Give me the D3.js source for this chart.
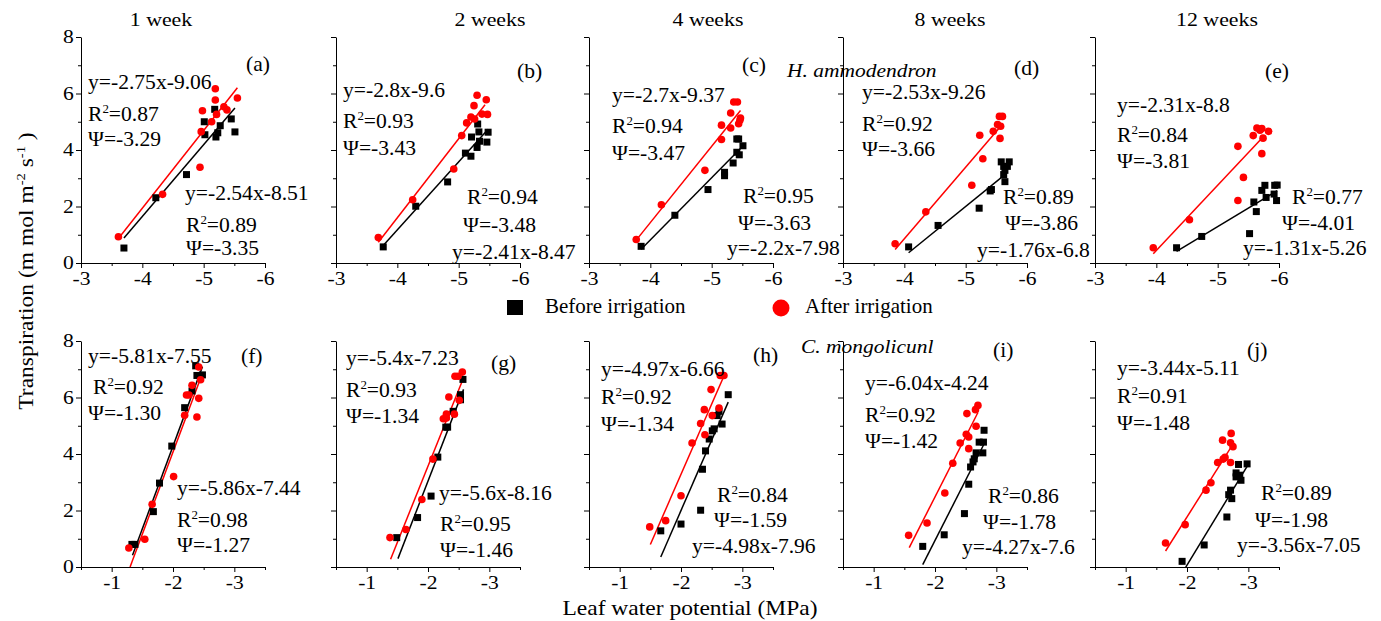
<!DOCTYPE html>
<html>
<head>
<meta charset="utf-8">
<title>Transpiration vs leaf water potential</title>
<script src="https://cdnjs.cloudflare.com/ajax/libs/d3/7.8.5/d3.min.js"></script>
<style>
    body { margin: 0; background: #fff; }
    svg text { font-family: "Liberation Serif", "Times New Roman", serif; fill: #000; }
</style>
</head>
<body>
<div id="chart"></div>
<script>
// titles
const weeks = ["1 week", "2 weeks", "4 weeks", "8 weeks", "12 weeks"];
const topIds = ["(a)", "(b)", "(c)", "(d)", "(e)"];
const bottomIds = ["(f)", "(g)", "(h)", "(i)", "(j)"];

// tick values
const hTicks = [-3, -4, -5, -6];
const hMinor = [-3.5, -4.5, -5.5];
const cTicks = [-1, -2, -3];
const cMinor = [-0.5, -1.5, -2.5, -3.5];
const yTicks = [0, 2, 4, 6, 8];
const yMinor = [1, 3, 5, 7];

// H. ammodendron  [leaf water potential, transpiration]
const hBefore = [
    [[-3.70,0.53],[-4.22,2.31],[-4.72,3.13],[-5.01,5.0],[-5.02,4.54],[-5.18,5.44],[-5.20,4.46],[-5.23,4.61],[-5.27,4.86],[-5.45,5.10],[-5.51,4.64]],
    [[-3.77,0.57],[-4.30,2.01],[-4.82,2.87],[-5.11,3.89],[-5.20,3.78],[-5.21,4.46],[-5.30,4.09],[-5.31,4.92],[-5.33,4.64],[-5.34,4.31],[-5.46,4.28],[-5.48,4.63]],
    [[-3.85,0.59],[-4.40,1.69],[-4.94,2.60],[-5.21,3.21],[-5.21,3.09],[-5.35,3.54],[-5.41,3.92],[-5.45,3.83],[-5.41,4.39],[-5.44,4.39],[-5.51,4.15]],
    [[-4.07,0.57],[-4.55,1.33],[-5.22,1.94],[-5.40,2.55],[-5.42,2.60],[-5.64,2.88],[-5.58,3.58],[-5.71,3.58],[-5.62,3.42],[-5.68,3.42],[-5.64,3.28],[-5.62,3.13]],
    [[-4.33,0.54],[-4.74,0.94],[-5.52,1.04],[-5.63,1.82],[-5.59,2.16],[-5.72,2.57],[-5.77,2.75],[-5.79,2.32],[-5.93,2.75],[-5.97,2.76],[-5.96,2.21],[-5.92,2.44]]
];
const hAfter = [
    [[-3.61,0.93],[-4.33,2.43],[-4.94,3.39],[-4.96,4.65],[-4.98,5.39],[-5.13,5.0],[-5.19,6.17],[-5.19,5.77],[-5.21,5.26],[-5.33,5.53],[-5.38,5.42],[-5.55,5.84]],
    [[-3.69,0.90],[-4.25,2.24],[-4.92,3.33],[-5.05,4.51],[-5.13,4.96],[-5.20,5.17],[-5.26,5.10],[-5.25,5.57],[-5.30,5.94],[-5.38,5.27],[-5.45,5.78],[-5.47,5.26]],
    [[-3.77,0.83],[-4.18,2.06],[-4.89,3.28],[-5.16,4.37],[-5.16,4.88],[-5.31,4.78],[-5.31,5.31],[-5.36,5.70],[-5.42,5.70],[-5.44,4.93],[-5.46,5.05],[-5.47,5.13]],
    [[-3.85,0.68],[-4.35,1.81],[-5.10,2.75],[-5.28,3.69],[-5.23,4.52],[-5.45,4.66],[-5.56,4.41],[-5.52,4.90],[-5.57,4.84],[-5.55,5.19],[-5.60,5.19]],
    [[-3.95,0.54],[-4.54,1.53],[-5.33,4.13],[-5.33,2.21],[-5.42,3.03],[-5.58,4.51],[-5.64,4.78],[-5.69,4.70],[-5.72,4.76],[-5.74,4.42],[-5.72,3.87],[-5.83,4.66]]
];

// C. mongolicunl
const cBefore = [
    [[-1.33,0.80],[-1.38,0.80],[-1.68,1.96],[-1.78,2.97],[-1.98,4.28],[-2.19,5.64],[-2.31,6.23],[-2.37,7.12],[-2.39,6.78],[-2.48,6.80]],
    [[-1.49,1.04],[-1.83,1.75],[-2.05,2.51],[-2.16,3.89],[-2.29,4.95],[-2.32,4.95],[-2.41,5.51],[-2.53,6.10],[-2.53,5.92],[-2.57,6.64]],
    [[-1.67,1.28],[-2.00,1.52],[-2.32,2.01],[-2.35,3.46],[-2.40,4.11],[-2.46,4.53],[-2.51,4.82],[-2.54,4.89],[-2.59,5.36],[-2.62,5.51],[-2.67,5.06],[-2.77,6.10]],
    [[-1.80,0.73],[-2.15,1.14],[-2.48,1.89],[-2.55,2.93],[-2.58,3.54],[-2.62,3.72],[-2.64,3.83],[-2.67,4.04],[-2.72,4.42],[-2.78,4.04],[-2.79,4.42],[-2.80,4.84]],
    [[-1.92,0.20],[-2.28,0.78],[-2.65,1.77],[-2.68,2.56],[-2.73,2.42],[-2.71,2.72],[-2.80,3.33],[-2.80,3.19],[-2.84,3.63],[-2.86,3.25],[-2.88,3.07],[-2.98,3.65]]
];
const cAfter = [
    [[-1.28,0.67],[-1.54,0.98],[-1.66,2.22],[-2.01,3.20],[-2.19,5.37],[-2.22,6.09],[-2.26,6.09],[-2.31,6.43],[-2.39,5.31],[-2.42,5.97],[-2.42,7.08],[-2.45,6.63]],
    [[-1.38,1.04],[-1.64,1.33],[-1.90,2.39],[-2.08,3.82],[-2.25,5.25],[-2.30,5.41],[-2.30,5.27],[-2.43,5.41],[-2.34,6.02],[-2.51,5.90],[-2.44,6.75],[-2.49,6.75],[-2.56,6.90]],
    [[-1.49,1.42],[-1.75,1.64],[-2.00,2.52],[-2.18,4.39],[-2.32,5.08],[-2.38,5.57],[-2.39,4.68],[-2.49,6.28],[-2.51,5.36],[-2.62,5.63],[-2.64,6.78],[-2.70,6.78]],
    [[-1.57,1.12],[-1.87,1.56],[-2.16,2.62],[-2.29,3.67],[-2.41,4.39],[-2.51,4.70],[-2.55,4.60],[-2.55,4.19],[-2.52,5.43],[-2.67,4.98],[-2.66,5.57],[-2.70,5.72]],
    [[-1.65,0.85],[-1.97,1.50],[-2.31,2.72],[-2.39,2.98],[-2.50,3.70],[-2.59,3.82],[-2.62,3.88],[-2.58,4.49],[-2.71,3.70],[-2.71,4.40],[-2.72,4.73],[-2.75,4.26]]
];

// fitted lines: [slope, intercept, from x, to x]
const hBeforeFit = [[-2.54,-8.51,-3.70,-5.51],[-2.41,-8.47,-3.77,-5.48],[-2.2,-7.98,-3.85,-5.51],[-1.76,-6.8,-4.07,-5.64],[-1.31,-5.26,-4.33,-5.97]];
const hAfterFit = [[-2.75,-9.06,-3.61,-5.55],[-2.8,-9.6,-3.69,-5.43],[-2.7,-9.37,-3.77,-5.47],[-2.53,-9.26,-3.85,-5.6],[-2.31,-8.8,-3.95,-5.74]];
const cBeforeFit = [[-5.86,-7.44,-1.34,-2.48],[-5.6,-8.16,-1.51,-2.58],[-4.98,-7.96,-1.67,-2.77],[-4.27,-7.6,-1.80,-2.81],[-3.56,-7.05,-1.98,-2.98]];
const cAfterFit = [[-5.81,-7.55,-1.30,-2.45],[-5.4,-7.23,-1.39,-2.58],[-4.97,-6.66,-1.5,-2.7],[-4.27,-6.06,-1.58,-2.70],[-3.44,-5.11,-1.65,-2.75]];

// equation labels
const hAfterEq = ["y=-2.75x-9.06", "y=-2.8x-9.6", "y=-2.7x-9.37", "y=-2.53x-9.26", "y=-2.31x-8.8"];
const hAfterR2 = ["0.87", "0.93", "0.94", "0.92", "0.84"];
const hAfterPsi = ["-3.29", "-3.43", "-3.47", "-3.66", "-3.81"];
const hBeforeEq = ["y=-2.54x-8.51", "y=-2.41x-8.47", "y=-2.2x-7.98", "y=-1.76x-6.8", "y=-1.31x-5.26"];
const hBeforeR2 = ["0.89", "0.94", "0.95", "0.89", "0.77"];
const hBeforePsi = ["-3.35", "-3.48", "-3.63", "-3.86", "-4.01"];
const cAfterEq = ["y=-5.81x-7.55", "y=-5.4x-7.23", "y=-4.97x-6.66", "y=-6.04x-4.24", "y=-3.44x-5.11"];
const cAfterR2 = ["0.92", "0.93", "0.92", "0.92", "0.91"];
const cAfterPsi = ["-1.30", "-1.34", "-1.34", "-1.42", "-1.48"];
const cBeforeEq = ["y=-5.86x-7.44", "y=-5.6x-8.16", "y=-4.98x-7.96", "y=-4.27x-7.6", "y=-3.56x-7.05"];
const cBeforeR2 = ["0.98", "0.95", "0.84", "0.86", "0.89"];
const cBeforePsi = ["-1.27", "-1.46", "-1.59", "-1.78", "-1.98"];

// layout (pixels, relative to each panel)
const lefts = [81, 336, 589, 843, 1095];
const W = 184, H = 226;
const titleX = [161, 490, 708, 950, 1217];
const topLayout = [
    {id: [165, 34], aEq: [7, 52], aR2: [7, 84], aPsi: [7, 109], bEq: [104, 163], bR2: [105, 195], bPsi: [105, 218]},
    {id: [181, 41], aEq: [7, 60], aR2: [7, 91], aPsi: [7, 118], bEq: [116, 222], bR2: [131, 167], bPsi: [127, 195]},
    {id: [153, 35], aEq: [23, 65], aR2: [23, 96], aPsi: [23, 123], bEq: [138, 218], bR2: [154, 166], bPsi: [149, 193]},
    {id: [171, 38], aEq: [19, 62], aR2: [19, 94], aPsi: [19, 119], bEq: [134, 220], bR2: [160, 167], bPsi: [162, 193]},
    {id: [170, 41], aEq: [22, 75], aR2: [22, 105], aPsi: [22, 131], bEq: [148, 218], bR2: [197, 167], bPsi: [187, 193]}
];
const bottomLayout = [
    {id: [160, 22], aEq: [7, 22], aR2: [12, 53], aPsi: [7, 79], bEq: [96, 154], bR2: [96, 186], bPsi: [96, 211]},
    {id: [155, 29], aEq: [10, 24], aR2: [10, 56], aPsi: [10, 82], bEq: [103, 159], bR2: [104, 190], bPsi: [104, 216]},
    {id: [164, 21], aEq: [12, 35], aR2: [12, 63], aPsi: [12, 90], bEq: [103, 212], bR2: [128, 161], bPsi: [125, 186]},
    {id: [150, 16], aEq: [22, 49], aR2: [22, 81], aPsi: [22, 107], bEq: [119, 213], bR2: [145, 162], bPsi: [140, 188]},
    {id: [152, 16], aEq: [22, 34], aR2: [22, 62], aPsi: [22, 89], bEq: [142, 211], bR2: [166, 159], bPsi: [160, 186]}
];

const svg = d3.select("#chart")
    .append("svg")
    .attr("width", 1381)
    .attr("height", 621);

// text stretched a bit sideways like the original figure
function label(g, pos, size, sx) {
    return g.append("text")
        .attr("transform", `translate(${pos[0]},${pos[1]}) scale(${sx},1)`)
        .style("font-size", size + "px");
}

function r2Label(g, pos, val) {
    const t = label(g, pos, 20, 1.08);
    t.append("tspan").text("R");
    t.append("tspan").attr("dy", -8).style("font-size", "12px").text("2");
    t.append("tspan").attr("dy", 8).text("=" + val);
}

function drawPanel(row, i) {
    const g = svg.append("g").attr("transform", `translate(${lefts[i]},${row.top})`);
    const x = d3.scaleLinear().domain(row.xDomain).range([0, W]);
    const y = d3.scaleLinear().domain([0, 8]).range([H, 0]);

    // axes
    g.append("g")
        .attr("transform", `translate(0,${H})`)
        .call(d3.axisBottom(x).tickValues(row.minor).tickSize(3).tickSizeOuter(0).tickFormat(""))
        .call(a => a.select(".domain").remove());
    g.append("g")
        .attr("transform", `translate(0,${H})`)
        .call(d3.axisBottom(x).tickValues(row.ticks).tickSize(5).tickSizeOuter(0).tickPadding(4).tickFormat(d => String(d)));
    g.append("g")
        .call(d3.axisLeft(y).tickValues(yMinor).tickSize(3).tickSizeOuter(0).tickFormat(""))
        .call(a => a.select(".domain").remove());
    g.append("g")
        .call(d3.axisLeft(y).tickValues(yTicks).tickSize(5).tickSizeOuter(0).tickPadding(1)
            .tickFormat(d => i === 0 ? String(d) : ""));
    g.selectAll(".tick text")
        .attr("font-family", null)
        .style("font-size", "18px")
        .attr("transform", "scale(1.2,1)");
    g.selectAll(".domain, .tick line").attr("stroke", "#000").attr("stroke-width", 1);

    // regression lines
    const fits = [[row.beforeFit[i], "#000"], [row.afterFit[i], "#f00"]];
    fits.forEach(([f, col]) => {
        g.append("line")
            .attr("x1", x(f[2])).attr("y1", y(f[0] * f[2] + f[1]))
            .attr("x2", x(f[3])).attr("y2", y(f[0] * f[3] + f[1]))
            .attr("stroke", col)
            .attr("stroke-width", 1.5);
    });

    // points
    g.selectAll(".sq")
        .data(row.before[i])
        .enter()
        .append("rect")
        .attr("x", d => x(d[0]) - 3.5)
        .attr("y", d => y(d[1]) - 3.5)
        .attr("width", 7)
        .attr("height", 7)
        .attr("fill", "#000");
    g.selectAll(".dot")
        .data(row.after[i])
        .enter()
        .append("circle")
        .attr("cx", d => x(d[0]))
        .attr("cy", d => y(d[1]))
        .attr("r", 3.8)
        .attr("fill", "#f00");

    // annotations
    const L = row.layout[i];
    label(g, L.id, 20, 1.08).text(row.ids[i]);
    label(g, L.aEq, 20, 1.08).text(row.afterEq[i]);
    r2Label(g, L.aR2, row.afterR2[i]);
    label(g, L.aPsi, 20, 1.08).text("\u03A8=" + row.afterPsi[i]);
    label(g, L.bEq, 20, 1.08).text(row.beforeEq[i]);
    r2Label(g, L.bR2, row.beforeR2[i]);
    label(g, L.bPsi, 20, 1.08).text("\u03A8=" + row.beforePsi[i]);
}

const rows = [
    {top: 37, xDomain: [-3, -6], ticks: hTicks, minor: hMinor, before: hBefore, after: hAfter,
     beforeFit: hBeforeFit, afterFit: hAfterFit, ids: topIds, layout: topLayout,
     afterEq: hAfterEq, afterR2: hAfterR2, afterPsi: hAfterPsi,
     beforeEq: hBeforeEq, beforeR2: hBeforeR2, beforePsi: hBeforePsi},
    {top: 341, xDomain: [-0.5, -3.5], ticks: cTicks, minor: cMinor, before: cBefore, after: cAfter,
     beforeFit: cBeforeFit, afterFit: cAfterFit, ids: bottomIds, layout: bottomLayout,
     afterEq: cAfterEq, afterR2: cAfterR2, afterPsi: cAfterPsi,
     beforeEq: cBeforeEq, beforeR2: cBeforeR2, beforePsi: cBeforePsi}
];
rows.forEach(row => lefts.forEach((l, i) => drawPanel(row, i)));

// column titles
weeks.forEach((w, i) => {
    label(svg, [titleX[i], 26], 19, 1.15).attr("text-anchor", "middle").text(w);
});

// species names
label(svg, [787, 77], 19, 1.13).style("font-style", "italic").text("H. ammodendron");
label(svg, [801, 353], 19, 1.13).style("font-style", "italic").text("C. mongolicunl");

// legend
svg.append("rect").attr("x", 507).attr("y", 300).attr("width", 16).attr("height", 15).attr("fill", "#000");
label(svg, [545, 313], 20, 1.05).text("Before irrigation");
svg.append("circle").attr("cx", 781).attr("cy", 308).attr("r", 8.5).attr("fill", "#f00");
label(svg, [805, 313], 20, 1.05).text("After irrigation");

// axis titles
label(svg, [690, 615], 21, 1.12).attr("text-anchor", "middle").text("Leaf water potential (MPa)");
const yt = svg.append("text")
    .attr("transform", "translate(33,271) rotate(-90) scale(1.12,1)")
    .attr("text-anchor", "middle")
    .style("font-size", "21px");
yt.append("tspan").text("Transpiration (m mol m");
yt.append("tspan").attr("dy", -8).style("font-size", "13px").text("-2");
yt.append("tspan").attr("dy", 8).text(" s");
yt.append("tspan").attr("dy", -8).style("font-size", "13px").text("-1");
yt.append("tspan").attr("dy", 8).text(" )");
</script>
</body>
</html>
